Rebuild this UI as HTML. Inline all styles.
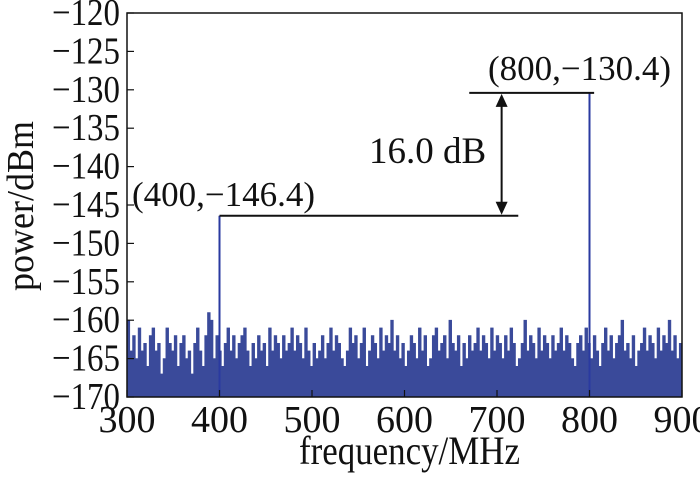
<!DOCTYPE html>
<html><head><meta charset="utf-8"><style>
body{margin:0;background:#fff;}
svg text{font-family:"Liberation Serif",serif;fill:#111;}
</style></head><body>
<svg id="chart" width="700" height="475" xmlns="http://www.w3.org/2000/svg"></svg>
<script>
const xTicks=[300,400,500,600,700,800,900];
const yTicks=[-120,-125,-130,-135,-140,-145,-150,-155,-160,-165,-170];
const peakFreqs=[400,800];
const peakPowers=[-146.4,-130.4];
const noiseStart=300, noiseStep=3;
const noiseValues=[-160,-164,-162,-165,-161,-164,-163,-166,-162,-161,-164,-163,-167,-165,-161,-163,-164,-162,-166,-163,-162,-165,-164,-167,-163,-161,-164,-166,-162,-159,-160,-165,-162,-164,-166,-163,-161,-164,-162,-165,-163,-162,-161,-164,-166,-163,-165,-162,-164,-163,-166,-161,-164,-162,-163,-165,-162,-164,-163,-161,-164,-162,-163,-165,-161,-164,-166,-163,-165,-164,-162,-165,-163,-161,-164,-162,-163,-165,-166,-164,-161,-163,-162,-165,-163,-161,-166,-164,-162,-163,-165,-161,-164,-162,-163,-160,-164,-162,-165,-163,-166,-164,-162,-163,-165,-161,-164,-162,-166,-165,-162,-161,-164,-163,-162,-165,-160,-163,-164,-162,-166,-163,-165,-162,-164,-163,-161,-164,-162,-163,-165,-161,-164,-162,-163,-165,-162,-164,-161,-163,-166,-165,-163,-160,-164,-162,-163,-165,-161,-164,-162,-163,-165,-162,-164,-163,-161,-164,-162,-163,-165,-166,-163,-162,-164,-161,-163,-165,-162,-164,-166,-163,-161,-164,-162,-165,-163,-162,-160,-164,-163,-165,-162,-166,-164,-163,-161,-164,-162,-163,-165,-161,-164,-162,-163,-160,-164,-162,-165,-163,-161,-164,-162,-163,-165,-161,-164,-162,-163,-165,-162,-164];
const L=127,R=682,T=13,B=397;
const xs=f=>L+(f-300)/600*(R-L);
const ys=v=>T+(-120-v)/50*(B-T);
const svg=document.getElementById('chart');
const NS='http://www.w3.org/2000/svg';
function mk(tag,attrs,text){const e=document.createElementNS(NS,tag);for(const k in attrs)e.setAttribute(k,attrs[k]);if(text!==undefined)e.textContent=text;svg.appendChild(e);return e;}
let d='M'+L+','+B;
noiseValues.forEach((v,i)=>{const x0=xs(noiseStart+i*noiseStep),x1=xs(Math.min(900,noiseStart+(i+1)*noiseStep));if(x0>=R)return;d+=' L'+x0+','+ys(v)+' L'+x1+','+ys(v);});
d+=' L'+R+','+B+' Z';
const n=mk('path',{d:d,fill:'#3a4a9a',stroke:'#3a4a9a','stroke-width':0.6});


peakFreqs.forEach((f,i)=>{const p=mk('line',{x1:xs(f),x2:xs(f),y1:B,y2:ys(peakPowers[i]),stroke:'#2a3aa0','stroke-width':2});

});
const fr=mk('rect',{x:L,y:T,width:R-L,height:B-T,fill:'none',stroke:'#111','stroke-width':1.5});


xTicks.forEach(t=>{mk('line',{x1:xs(t),x2:xs(t),y1:B,y2:B-7,stroke:'#111','stroke-width':1.2});
const tx=mk('text',{x:xs(t),y:B+35,'font-size':38,'text-anchor':'middle'},t);

});
yTicks.forEach(t=>{mk('line',{x1:L,x2:L+7,y1:ys(t),y2:ys(t),stroke:'#111','stroke-width':1.2});
const ty=mk('text',{x:L-75,y:ys(t)+12,'font-size':38,textLength:68,lengthAdjust:'spacingAndGlyphs'},'\u2212'+Math.abs(t));

});
const xt=mk('text',{x:299,y:464,'font-size':40,textLength:221,lengthAdjust:'spacingAndGlyphs'},'frequency/MHz');


const yt=mk('text',{x:-85,y:0,'font-size':38,textLength:170,lengthAdjust:'spacingAndGlyphs',transform:'translate(33,206) rotate(-90)'},'power/dBm');


const y1=ys(peakPowers[0]),y2=ys(peakPowers[1]);
mk('line',{x1:xs(400),x2:xs(723),y1:y1,y2:y1,stroke:'#111','stroke-width':2});
mk('line',{x1:xs(670),x2:xs(805),y1:y2,y2:y2,stroke:'#111','stroke-width':2});
mk('line',{x1:xs(705),x2:xs(705),y1:y2+10,y2:y1-10,stroke:'#111','stroke-width':2});
mk('path',{d:`M${xs(705)-6},${y2+14} L${xs(705)},${y2+1} L${xs(705)+6},${y2+14}Z`,fill:'#111'});
mk('path',{d:`M${xs(705)-6},${y1-14} L${xs(705)},${y1-1} L${xs(705)+6},${y1-14}Z`,fill:'#111'});
const a1=mk('text',{x:132,y:206,'font-size':35},'(400,\u2212'+Math.abs(peakPowers[0])+')');


const a2=mk('text',{x:488,y:80,'font-size':35},'(800,\u2212'+Math.abs(peakPowers[1])+')');


const a3=mk('text',{x:369,y:163,'font-size':37},(peakPowers[1]-peakPowers[0]).toFixed(1)+' dB');


</script>
</body></html>
